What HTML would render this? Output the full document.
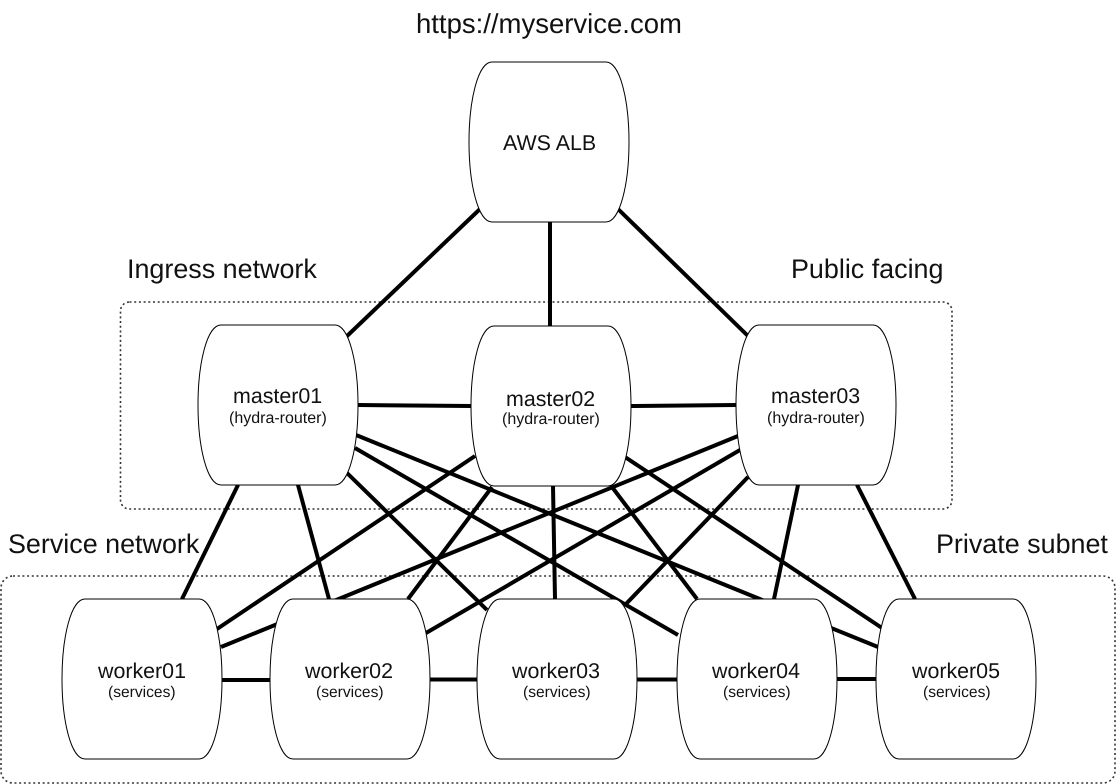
<!DOCTYPE html>
<html><head><meta charset="utf-8">
<style>
html,body{margin:0;padding:0;background:#fff}
svg{display:block}
text{font-family:"Liberation Sans",Arial,sans-serif;fill:#111;text-rendering:geometricPrecision}
.b{font-size:21.4px}.s{font-size:16px}.v{font-size:15.6px}.l{font-size:26.9px}.t{font-size:27.5px}
</style></head><body>
<svg width="1116" height="784" viewBox="0 0 1116 784" xmlns="http://www.w3.org/2000/svg">
<defs>
<path id="n" d="M23,0 H137 C151,0 160,38 160,80 C160,122 151,160 137,160 H23 C9,160 0,122 0,80 C0,38 9,0 23,0 Z" fill="#fff" stroke="#000" stroke-width="1"/>
</defs>
<rect x="120.5" y="302" width="831.5" height="207" rx="9" fill="none" stroke="#333" stroke-width="1.6" stroke-dasharray="2 2.7"/>
<rect x="1" y="576" width="1114" height="207" rx="12" fill="none" stroke="#333" stroke-width="1.6" stroke-dasharray="2 2.7"/>
<g stroke="#000" stroke-width="4" fill="none">
<path d="M480,209 L346,337"/>
<path d="M550,222 V326"/>
<path d="M618,209 L748,336"/>
<path d="M358,405 L471,406"/>
<path d="M631,406 L736,405"/>
<path d="M238,485 L182,599"/>
<path d="M298,485 L329,599"/>
<path d="M346,472 L487,610"/>
<path d="M355,448 L678,635"/>
<path d="M356,435 L878,647"/>
<path d="M475,456 L217,629"/>
<path d="M492,487 L408,599"/>
<path d="M553,486 L555,599"/>
<path d="M612,487 L697,599"/>
<path d="M625,457 L882,628"/>
<path d="M738,436 L221,647"/>
<path d="M740,450 L426,633"/>
<path d="M748,477 L625,605"/>
<path d="M798,485 L774,599"/>
<path d="M857,485 L915,599"/>
<path d="M222,680 H270"/>
<path d="M430,679.5 H477"/>
<path d="M637,679.5 H677"/>
<path d="M837,679 H876"/>
</g>
<use href="#n" x="469" y="62"/>
<use href="#n" x="198" y="325"/>
<use href="#n" x="471" y="326"/>
<use href="#n" x="736" y="325"/>
<use href="#n" x="62" y="599"/>
<use href="#n" x="270" y="599"/>
<use href="#n" x="477" y="599"/>
<use href="#n" x="677" y="599"/>
<use href="#n" x="876" y="599"/>
<text class="t" x="416" y="33">https://myservice.com</text>
<text class="l" x="127" y="278">Ingress network</text>
<text class="l" x="791" y="278">Public facing</text>
<text class="l" x="8" y="553">Service network</text>
<text class="l" x="936" y="553">Private subnet</text>
<text class="b" x="503" y="150">AWS ALB</text>
<text class="b" x="233" y="403">master01</text>
<text class="s" x="229" y="423">(hydra-router)</text>
<text class="b" x="506" y="406">master02</text>
<text class="s" x="502" y="424">(hydra-router)</text>
<text class="b" x="771" y="403">master03</text>
<text class="s" x="767" y="423">(hydra-router)</text>
<text class="b" x="98" y="678">worker01</text>
<text class="v" x="108" y="697">(services)</text>
<text class="b" x="305" y="678">worker02</text>
<text class="v" x="316" y="697">(services)</text>
<text class="b" x="512" y="678">worker03</text>
<text class="v" x="523" y="697">(services)</text>
<text class="b" x="712" y="678">worker04</text>
<text class="v" x="723" y="697">(services)</text>
<text class="b" x="912" y="678">worker05</text>
<text class="v" x="923" y="697">(services)</text>
</svg>
</body></html>
